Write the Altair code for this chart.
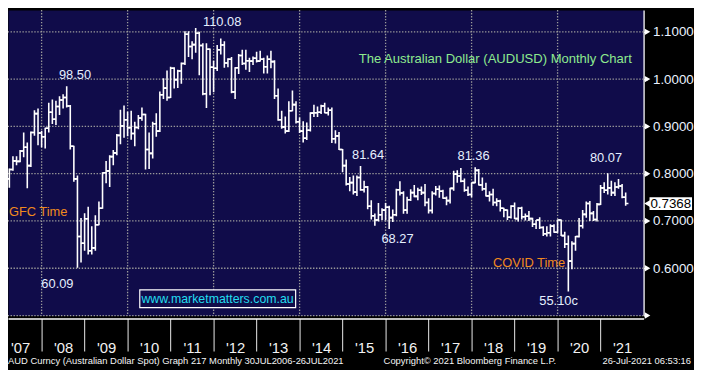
import altair as alt
import pandas as pd

# ---------------- data: monthly AUDUSD bars, Jan 2007 .. Jul 2021 ----------------
first_year = 2007
opens = [
    0.7890, 0.7740, 0.7890, 0.8090, 0.8270, 0.8260, 0.8480, 0.8560, 0.8170, 0.8870, 0.9270, 0.8860,
    0.8780, 0.8960, 0.9300, 0.9150, 0.9420, 0.9560, 0.9610, 0.9430, 0.8580, 0.7890, 0.6670, 0.6530,
    0.7045, 0.6370, 0.6430, 0.6920, 0.7270, 0.8020, 0.8060, 0.8360, 0.8440, 0.8810, 0.9010, 0.9140,
    0.8970, 0.8850, 0.8975, 0.9175, 0.9250, 0.8510, 0.8430, 0.9055, 0.8900, 0.9670, 0.9810, 0.9610,
    1.0230, 0.9990, 1.0170, 1.0330, 1.0950, 1.0690, 1.0730, 1.0970, 1.0710, 0.9690, 1.0630, 1.0250,
    1.0230, 1.0620, 1.0720, 1.0340, 1.0420, 0.9730, 1.0240, 1.0500, 1.0330, 1.0390, 1.0380, 1.0440,
    1.0380, 1.0420, 1.0260, 1.0420, 1.0370, 0.9650, 0.9140, 0.8990, 0.8900, 0.9330, 0.9460, 0.9100,
    0.8900, 0.8750, 0.8920, 0.9280, 0.9290, 0.9300, 0.9430, 0.9290, 0.9340, 0.8740, 0.8800, 0.8510,
    0.8170, 0.7780, 0.7810, 0.7610, 0.7920, 0.7660, 0.7720, 0.7310, 0.7110, 0.7020, 0.7130, 0.7230,
    0.7290, 0.7070, 0.7130, 0.7660, 0.7590, 0.7230, 0.7450, 0.7600, 0.7520, 0.7650, 0.7600, 0.7390,
    0.7220, 0.7580, 0.7670, 0.7630, 0.7480, 0.7430, 0.7690, 0.7990, 0.7950, 0.7840, 0.7650, 0.7560,
    0.7810, 0.8070, 0.7760, 0.7680, 0.7530, 0.7560, 0.7390, 0.7420, 0.7270, 0.7230, 0.7080, 0.7310,
    0.7050, 0.7270, 0.7090, 0.7100, 0.7050, 0.6930, 0.7020, 0.6860, 0.6730, 0.6750, 0.6890, 0.6760,
    0.7020, 0.6690, 0.6510, 0.6150, 0.6520, 0.6670, 0.6900, 0.7140, 0.7370, 0.7160, 0.7030, 0.7350,
    0.7700, 0.7650, 0.7700, 0.7600, 0.7720, 0.7740, 0.7500,
]
highs = [
    0.7950, 0.7950, 0.8110, 0.8370, 0.8370, 0.8500, 0.8870, 0.8660, 0.8890, 0.9340, 0.9380, 0.8910,
    0.8970, 0.9500, 0.9570, 0.9540, 0.9640, 0.9680, 0.9850, 0.9450, 0.8590, 0.7960, 0.7060, 0.7165,
    0.7300, 0.6890, 0.7120, 0.7410, 0.8030, 0.8270, 0.8390, 0.8500, 0.8840, 0.9350, 0.9440, 0.9310,
    0.9330, 0.9100, 0.9240, 0.9400, 0.9270, 0.8870, 0.9100, 0.9280, 0.9740, 1.0020, 1.0180, 1.0260,
    1.0250, 1.0200, 1.0350, 1.1010, 1.1010, 1.0800, 1.1080, 1.1000, 1.0760, 1.0760, 1.0650, 1.0390,
    1.0720, 1.0860, 1.0800, 1.0440, 1.0470, 1.0250, 1.0530, 1.0620, 1.0620, 1.0450, 1.0480, 1.0580,
    1.0600, 1.0450, 1.0500, 1.0600, 1.0400, 0.9800, 0.9330, 0.9210, 0.9530, 0.9760, 0.9530, 0.9190,
    0.9110, 0.9080, 0.9300, 0.9460, 0.9420, 0.9460, 0.9500, 0.9400, 0.9400, 0.8920, 0.8880, 0.8520,
    0.8300, 0.7930, 0.7960, 0.7960, 0.8164, 0.7850, 0.7740, 0.7440, 0.7160, 0.7380, 0.7270, 0.7380,
    0.7320, 0.7240, 0.7680, 0.7840, 0.7630, 0.7510, 0.7670, 0.7760, 0.7700, 0.7730, 0.7780, 0.7480,
    0.7630, 0.7740, 0.7750, 0.7660, 0.7520, 0.7700, 0.8060, 0.8070, 0.8120, 0.7900, 0.7730, 0.7810,
    0.8136, 0.8100, 0.7920, 0.7810, 0.7630, 0.7680, 0.7480, 0.7450, 0.7280, 0.7240, 0.7330, 0.7390,
    0.7290, 0.7300, 0.7160, 0.7210, 0.7070, 0.7020, 0.7080, 0.6890, 0.6890, 0.6930, 0.6930, 0.7030,
    0.7030, 0.6770, 0.6690, 0.6570, 0.6680, 0.7060, 0.7230, 0.7410, 0.7420, 0.7210, 0.7380, 0.7760,
    0.7820, 0.8007, 0.7850, 0.7820, 0.7890, 0.7780, 0.7600,
]
lows = [
    0.7710, 0.7710, 0.7700, 0.8060, 0.8180, 0.8240, 0.8350, 0.7690, 0.8140, 0.8800, 0.8600, 0.8560,
    0.8530, 0.8870, 0.9050, 0.9030, 0.9240, 0.9380, 0.9400, 0.8510, 0.7830, 0.6009, 0.6120, 0.6370,
    0.6290, 0.6290, 0.6370, 0.6910, 0.7260, 0.7800, 0.7720, 0.8180, 0.8390, 0.8620, 0.8760, 0.8790,
    0.8720, 0.8580, 0.8940, 0.9120, 0.8090, 0.8100, 0.8320, 0.8780, 0.8880, 0.9580, 0.9540, 0.9600,
    0.9800, 0.9810, 0.9900, 1.0300, 1.0470, 1.0420, 1.0560, 1.0080, 0.9660, 0.9390, 0.9660, 0.9720,
    1.0170, 1.0520, 1.0240, 1.0250, 0.9700, 0.9580, 1.0110, 1.0300, 1.0200, 1.0150, 1.0300, 1.0350,
    1.0370, 1.0120, 1.0120, 1.0230, 0.9580, 0.9120, 0.8950, 0.8850, 0.8880, 0.9320, 0.9060, 0.8860,
    0.8660, 0.8710, 0.8890, 0.9200, 0.9200, 0.9260, 0.9280, 0.9230, 0.8650, 0.8640, 0.8500, 0.8030,
    0.7750, 0.7630, 0.7560, 0.7530, 0.7640, 0.7600, 0.7250, 0.7030, 0.6900, 0.6990, 0.7020, 0.7010,
    0.6830, 0.6980, 0.7100, 0.7540, 0.7150, 0.7150, 0.7420, 0.7500, 0.7440, 0.7550, 0.7310, 0.7160,
    0.7160, 0.7540, 0.7490, 0.7470, 0.7330, 0.7370, 0.7640, 0.7810, 0.7820, 0.7620, 0.7530, 0.7500,
    0.7800, 0.7750, 0.7640, 0.7520, 0.7410, 0.7320, 0.7310, 0.7200, 0.7080, 0.7020, 0.7050, 0.7040,
    0.6990, 0.7030, 0.7010, 0.7000, 0.6870, 0.6830, 0.6830, 0.6680, 0.6670, 0.6670, 0.6750, 0.6750,
    0.6680, 0.6430, 0.5510, 0.5980, 0.6370, 0.6650, 0.6840, 0.7070, 0.7000, 0.7000, 0.6990, 0.7340,
    0.7590, 0.7560, 0.7530, 0.7530, 0.7680, 0.7480, 0.7320,
]
closes = [
    0.7740, 0.7890, 0.8090, 0.8270, 0.8260, 0.8480, 0.8560, 0.8170, 0.8870, 0.9270, 0.8860, 0.8780,
    0.8960, 0.9300, 0.9150, 0.9420, 0.9560, 0.9610, 0.9430, 0.8580, 0.7890, 0.6670, 0.6530, 0.7045,
    0.6370, 0.6430, 0.6920, 0.7270, 0.8020, 0.8060, 0.8360, 0.8440, 0.8810, 0.9010, 0.9140, 0.8970,
    0.8850, 0.8975, 0.9175, 0.9250, 0.8510, 0.8430, 0.9055, 0.8900, 0.9670, 0.9810, 0.9610, 1.0230,
    0.9990, 1.0170, 1.0330, 1.0950, 1.0690, 1.0730, 1.0970, 1.0710, 0.9690, 1.0630, 1.0250, 1.0230,
    1.0620, 1.0720, 1.0340, 1.0420, 0.9730, 1.0240, 1.0500, 1.0330, 1.0390, 1.0380, 1.0440, 1.0380,
    1.0420, 1.0260, 1.0420, 1.0370, 0.9650, 0.9140, 0.8990, 0.8900, 0.9330, 0.9460, 0.9100, 0.8900,
    0.8750, 0.8920, 0.9280, 0.9290, 0.9300, 0.9430, 0.9290, 0.9340, 0.8740, 0.8800, 0.8510, 0.8170,
    0.7780, 0.7810, 0.7610, 0.7920, 0.7660, 0.7720, 0.7310, 0.7110, 0.7020, 0.7130, 0.7230, 0.7290,
    0.7070, 0.7130, 0.7660, 0.7590, 0.7230, 0.7450, 0.7600, 0.7520, 0.7650, 0.7600, 0.7390, 0.7220,
    0.7580, 0.7670, 0.7630, 0.7480, 0.7430, 0.7690, 0.7990, 0.7950, 0.7840, 0.7650, 0.7560, 0.7810,
    0.8070, 0.7760, 0.7680, 0.7530, 0.7560, 0.7390, 0.7420, 0.7270, 0.7230, 0.7080, 0.7310, 0.7050,
    0.7270, 0.7090, 0.7100, 0.7050, 0.6930, 0.7020, 0.6860, 0.6730, 0.6750, 0.6890, 0.6760, 0.7020,
    0.6690, 0.6510, 0.6150, 0.6520, 0.6670, 0.6900, 0.7140, 0.7370, 0.7160, 0.7030, 0.7350, 0.7700,
    0.7650, 0.7700, 0.7600, 0.7720, 0.7740, 0.7500, 0.7368,
]

# axis / grid levels
price_ticks = [0.50, 0.55, 0.60, 0.65, 0.70, 0.75, 0.80, 0.85, 0.90, 0.95, 1.00, 1.05, 1.10]
price_major = [0.50, 0.60, 0.70, 0.80, 0.90, 1.00, 1.10]
year_ticks = list(range(2008, 2023))
grid_years = [2008, 2010, 2012, 2014, 2016, 2018, 2020]
last_price = [0.7368]

# annotations (decimal-year, price)
num_text = ["110.08", "98.50", "60.09", "81.64", "68.27", "81.36", "80.07", "55.10c"]
num_t = [2012.20, 2008.777, 2008.368, 2015.593, 2016.276, 2018.046, 2021.126, 2020.023]
num_v = [1.1209, 1.0095, 0.5669, 0.8387, 0.6610, 0.8366, 0.8324, 0.5313]
orange_text = ["GFC Time", "COVID Time"]
orange_t = [2007.92, 2019.338]
orange_v = [0.7189, 0.6108]
title_text = ["The Australian Dollar (AUDUSD) Monthly Chart"]
title_t = [2018.55]
title_v = [1.0415]
url_text = ["www.marketmatters.com.au"]
url_t = [2012.092]
url_v = [0.5355]
url_box = {"t0": [2010.283], "t1": [2013.908], "v0": [0.5543], "v1": [0.5167]}

# ---------------- tables ----------------
n = len(opens)
per = pd.period_range(f"{first_year}-01", periods=n, freq="M")
df = pd.DataFrame({
    "t": [p.year + p.month / 12 for p in per],  # bars sit at month end
    "open": opens, "high": highs, "low": lows, "close": closes,
})

W, H = 643, 309
NAVY = "#100c4a"
SANS = "Liberation Sans, Arial, sans-serif"

xs = alt.Scale(domain=[2007.2184, 2022.0], nice=False, zero=False)
ys = alt.Scale(domain=[0.5, 1.146], nice=False, zero=False)

def X(f):
    return alt.X(f, scale=xs)

def Y(f):
    return alt.Y(f, scale=ys)

x_axis = alt.Axis(
    values=year_ticks, orient="bottom", offset=3, title=None, grid=False,
    domainColor="white", domainWidth=1.3,
    tickColor={"condition": {"test": "datum.value >= 2022", "value": "transparent"}, "value": "#c4c4c4"},
    tickSize=33, tickWidth=1.2,
    labelExpr="\"'\" + slice(toString(datum.value - 1), 2)",
    labelOffset=-21.75, labelPadding=-4, labelBaseline="middle",
    labelColor="#f2f2f2", labelFont=SANS, labelFontSize=15,
    labelOverlap=False, labelFlush=False, labelBound=False,
)
y_axis = alt.Axis(
    values=price_ticks, orient="right", title=None, grid=False,
    domainColor="white", domainWidth=1.3, tickColor="white", tickSize=4, tickWidth=1.2,
    labelExpr="(datum.value > 0.56 && round(datum.value * 20) % 2 == 0) ? format(datum.value, '.4f') : ''",
    labelColor="#eaf2ff", labelFont=SANS, labelFontSize=13.5, labelPadding=5,
    labelBaseline="middle", labelOverlap=False, labelFlush=False, labelBound=False,
)

bars = alt.Chart(df)
# invisible first layer that carries both axes
axis_carrier = bars.mark_rule(strokeOpacity=0).encode(
    x=alt.X("t:Q", scale=xs, axis=x_axis),
    y=alt.Y("low:Q", scale=ys, axis=y_axis),
    y2="high:Q",
)

dot = dict(color="#9a9a9a", strokeDash=[1.4, 1.6], strokeWidth=1.3)
grid_h = alt.Chart(pd.DataFrame({"low": price_major})).mark_rule(**dot).encode(y=Y("low:Q"))
grid_v = alt.Chart(pd.DataFrame({"t": grid_years})).mark_rule(**dot).encode(x=X("t:Q"))

hl = bars.mark_rule(color="white", strokeWidth=1.6, clip=True).encode(
    x=X("t:Q"), y=Y("low:Q"), y2="high:Q")
op = bars.mark_rule(color="white", strokeWidth=1.6, xOffset=-2.8, clip=True).encode(
    x=X("t:Q"), x2="t:Q", y=Y("open:Q"))
cl = bars.mark_rule(color="white", strokeWidth=1.6, x2Offset=2.8, clip=True).encode(
    x=X("t:Q"), x2="t:Q", y=Y("close:Q"))

arrows = alt.Chart(pd.DataFrame({"low": price_major})).mark_point(
    shape="triangle-right", filled=True, color="white", opacity=1, size=42).encode(
    x=alt.value(W + 4), y=Y("low:Q"))

lp = pd.DataFrame({"low": last_price, "txt": [f"{v:.4f}" for v in last_price]})
lp_box = alt.Chart(lp).mark_rect(color="white", yOffset=-6.5, y2Offset=6.5).encode(
    x=alt.value(W + 6), x2=alt.value(W + 49), y=Y("low:Q"), y2="low:Q")
lp_tip = alt.Chart(lp).mark_point(
    shape="triangle-left", filled=True, color="white", opacity=1, size=60).encode(
    x=alt.value(W + 4), y=Y("low:Q"))
lp_txt = alt.Chart(lp).mark_text(color="#000000", font=SANS, fontSize=13.5, baseline="middle").encode(
    x=alt.value(W + 27.5), y=Y("low:Q"), text="txt:N")

def label_layer(texts, ts, vs, **style):
    d = pd.DataFrame({"txt": texts, "t": ts, "low": vs})
    return alt.Chart(d).mark_text(baseline="middle", align="center", **style).encode(
        x=X("t:Q"), y=Y("low:Q"), text="txt:N")

nums = label_layer(num_text, num_t, num_v, color="#e6f0ff", font=SANS, fontSize=13)
orng = label_layer(orange_text, orange_t, orange_v, color="#f08a1e", font=SANS, fontSize=13)
ttl = label_layer(title_text, title_t, title_v, color="#8eea8e", font=SANS, fontSize=13.2)
url = label_layer(url_text, url_t, url_v, color="#22dcef", font=SANS, fontSize=12.5)
url_rect = alt.Chart(pd.DataFrame({"t": url_box["t0"], "t1": url_box["t1"],
                                   "low": url_box["v0"], "v1": url_box["v1"]})).mark_rect(
    fill=NAVY, stroke="white", strokeWidth=1.2).encode(
    x=X("t:Q"), x2="t1:Q", y=Y("low:Q"), y2="v1:Q")

foot_df = pd.DataFrame({"a": [0]})
foot_style = dict(color="#f4f4f4", font=SANS, fontSize=9.5, baseline="middle")
foot1 = alt.Chart(foot_df).mark_text(align="left", **foot_style).encode(
    x=alt.value(0), y=alt.value(H + 46),
    text=alt.value("AUD Curncy (Australian Dollar Spot) Graph 217  Monthly 30JUL2006-26JUL2021"))
foot2 = alt.Chart(foot_df).mark_text(align="left", **foot_style).encode(
    x=alt.value(380), y=alt.value(H + 46),
    text=alt.value("Copyright\u00a9 2021 Bloomberg Finance L.P."))
foot3 = alt.Chart(foot_df).mark_text(align="right", **foot_style).encode(
    x=alt.value(691), y=alt.value(H + 46),
    text=alt.value("26-Jul-2021 06:53:16"))

chart = alt.layer(
    axis_carrier, grid_h, grid_v, hl, op, cl, arrows, lp_box, lp_tip, lp_txt,
    url_rect, url, nums, orng, ttl, foot1, foot2, foot3,
).properties(
    width=W, height=H,
    autosize=alt.AutoSizeParams(type="none"),
    padding={"left": 0, "top": 0, "right": 51, "bottom": 53},
    background="black",
).configure_view(fill=NAVY, stroke="transparent")

chart.save("out.html", embed_options={"renderer": "svg", "actions": False})
